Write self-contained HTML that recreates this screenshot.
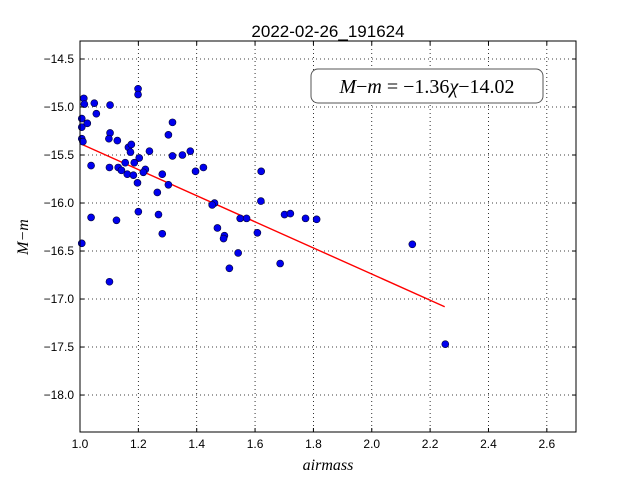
<!DOCTYPE html>
<html><head><meta charset="utf-8"><style>
body{margin:0;background:#fff;}
svg{display:block;font-family:"Liberation Sans",sans-serif;}
</style></head><body>
<svg id="chart" width="640" height="480">
<rect width="640" height="480" fill="#fff"/>
<g id="grid"></g><g id="marks"></g><g id="axes"></g>
</svg>
<script>
const airmass=[1.013,1.015,1.049,1.103,1.199,1.199,1.006,1.056,1.025,1.006,1.317,1.303,1.103,1.099,1.128,1.006,1.010,1.166,1.176,1.173,1.238,1.317,1.351,1.378,1.203,1.186,1.155,1.038,1.101,1.131,1.142,1.224,1.217,1.162,1.183,1.282,1.396,1.423,1.621,1.197,1.303,1.265,1.461,1.453,1.620,1.200,1.038,1.125,1.269,1.549,1.571,1.471,1.495,1.492,1.608,1.282,1.006,1.542,1.512,1.101,1.701,1.721,1.773,1.811,1.686,2.139,2.252];
const magDiff=[-14.91,-14.97,-14.96,-14.98,-14.81,-14.87,-15.12,-15.07,-15.17,-15.21,-15.16,-15.29,-15.27,-15.33,-15.35,-15.33,-15.36,-15.42,-15.39,-15.47,-15.46,-15.51,-15.50,-15.46,-15.53,-15.58,-15.58,-15.61,-15.63,-15.63,-15.66,-15.65,-15.68,-15.70,-15.71,-15.70,-15.67,-15.63,-15.67,-15.79,-15.81,-15.89,-16.00,-16.02,-15.98,-16.09,-16.15,-16.18,-16.12,-16.16,-16.16,-16.26,-16.34,-16.37,-16.31,-16.32,-16.42,-16.52,-16.68,-16.82,-16.12,-16.11,-16.16,-16.17,-16.63,-16.43,-17.47];
const fitSlope=-1.36;
const fitIntercept=-14.02;
const fitRange=[1.0,2.25];
const xTicks=[1.0,1.2,1.4,1.6,1.8,2.0,2.2,2.4,2.6];
const yTicks=[-14.5,-15.0,-15.5,-16.0,-16.5,-17.0,-17.5,-18.0];
const X0=80,X1=576,Y0=41,Y1=432;
const xMin=1.0,xMax=2.7,yMax=-14.3125,yMin=-18.385;
const sx=v=>X0+(v-xMin)/(xMax-xMin)*(X1-X0);
const sy=v=>Y0+(yMax-v)/(yMax-yMin)*(Y1-Y0);
const NS="http://www.w3.org/2000/svg";
function mk(tag,attrs,parent){const e=document.createElementNS(NS,tag);for(const k in attrs)e.setAttribute(k,attrs[k]);parent.appendChild(e);return e;}
const svg=document.getElementById('chart'),grid=document.getElementById('grid'),marks=document.getElementById('marks'),axes=document.getElementById('axes');
const fmt=v=>(v<0?'\u2212':'')+Math.abs(v).toFixed(1);
xTicks.forEach(t=>{const x=sx(t);
 const g=mk('line',{x1:x,x2:x,y1:Y0,y2:Y1,stroke:'#000','stroke-dasharray':'1,3','stroke-width':0.8},grid);
 
 mk('line',{x1:x,x2:x,y1:Y1,y2:Y1-4,stroke:'#000'},axes);mk('line',{x1:x,x2:x,y1:Y0,y2:Y0+4,stroke:'#000'},axes);
 const l=mk('text',{x:x,y:Y1+16,'text-anchor':'middle','font-size':12},axes);l.textContent=t.toFixed(1);
 });
yTicks.forEach(t=>{const y=sy(t);
 const g=mk('line',{x1:X0,x2:X1,y1:y,y2:y,stroke:'#000','stroke-dasharray':'1,3','stroke-width':0.8},grid);
 
 mk('line',{x1:X0,x2:X0+4,y1:y,y2:y,stroke:'#000'},axes);mk('line',{x1:X1,x2:X1-4,y1:y,y2:y,stroke:'#000'},axes);
 const l=mk('text',{x:X0-6,y:y+4,'text-anchor':'end','font-size':12},axes);l.textContent=fmt(t);
 });
const fl=mk('line',{x1:sx(fitRange[0]),y1:sy(fitSlope*fitRange[0]+fitIntercept),x2:sx(fitRange[1]),y2:sy(fitSlope*fitRange[1]+fitIntercept),stroke:'#ff0000','stroke-width':1.4},marks);

airmass.forEach((a,i)=>{const c=mk('circle',{cx:sx(a),cy:sy(magDiff[i]),r:3.5,fill:'#0000ee',stroke:'#000033','stroke-width':0.6},marks);
 });
const fr=mk('rect',{x:X0,y:Y0,width:X1-X0,height:Y1-Y0,fill:'none',stroke:'#000','stroke-width':1},axes);

const ti=mk('text',{x:(X0+X1)/2,y:37,'text-anchor':'middle','font-size':17},axes);ti.textContent='2022-02-26_191624';

const xl=mk('text',{x:(X0+X1)/2,y:470,'text-anchor':'middle','font-size':16,'font-style':'italic','font-family':'Liberation Serif,serif'},axes);xl.textContent='airmass';

const yl=mk('text',{x:0,y:0,'text-anchor':'middle','font-size':16,'font-style':'italic','font-family':'Liberation Serif,serif',transform:'translate(28,237) rotate(-90)'},axes);yl.textContent='M\u2212m';

const bx=mk('rect',{x:311,y:69,width:232,height:34,rx:7,fill:'#fff',stroke:'#555','stroke-width':1},axes);

const eq=mk('text',{x:427,y:93,'text-anchor':'middle','font-size':20,'font-family':'Liberation Serif,serif'},axes);

[['M','i'],['\u2212',''],['m','i'],[' = \u22121.36',''],['\u03c7','i'],['\u221214.02','']].forEach(p=>{const s=mk('tspan',p[1]?{'font-style':'italic'}:{},eq);s.textContent=p[0];});
</script>
</body></html>
